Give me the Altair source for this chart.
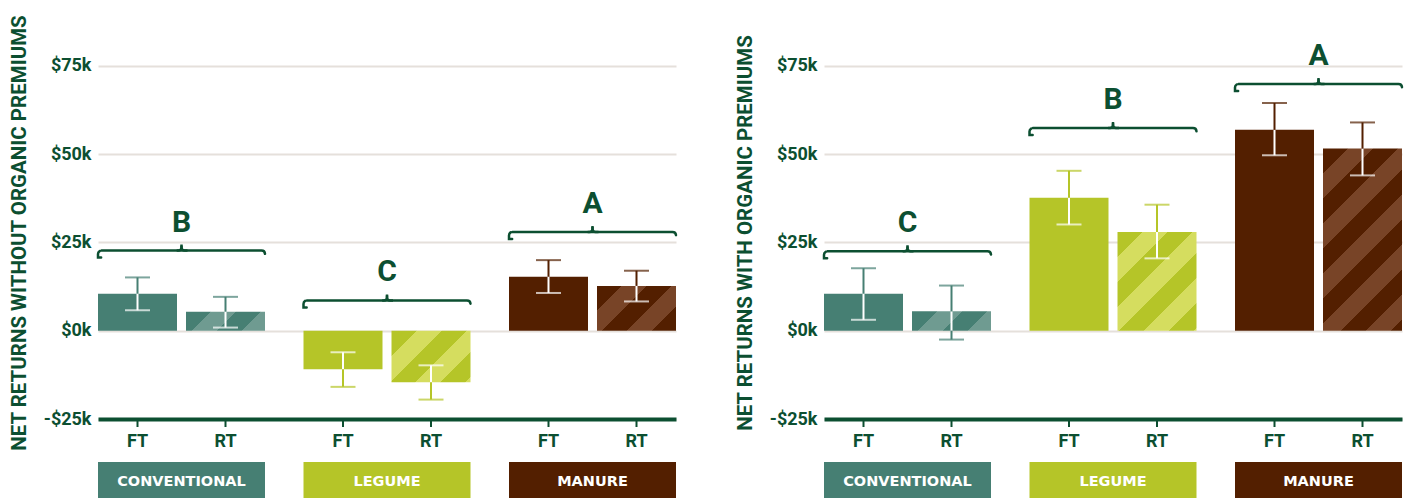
import math
import altair as alt
import pandas as pd

# ---------------- data ----------------
groups = ["CONVENTIONAL", "LEGUME", "MANURE"]
tillage = ["FT", "RT"]
bar_group = ["CONVENTIONAL", "CONVENTIONAL", "LEGUME", "LEGUME", "MANURE", "MANURE"]
bar_tillage = ["FT", "RT", "FT", "RT", "FT", "RT"]

# net returns without organic premiums ($ thousands)
without_mean = [10.5, 5.4, -10.9, -14.6, 15.3, 12.7]
without_low = [5.8, 0.9, -15.9, -19.5, 10.7, 8.3]
without_high = [15.1, 9.6, -6.1, -9.8, 20.0, 17.0]
without_letters = ["B", "C", "A"]
without_brace = [22.7, 8.6, 28.0]

# net returns with organic premiums ($ thousands)
with_mean = [10.5, 5.5, 37.7, 28.0, 56.9, 51.6]
with_low = [3.1, -2.5, 30.1, 20.5, 49.7, 44.0]
with_high = [17.7, 12.8, 45.3, 35.7, 64.5, 59.0]
with_letters = ["C", "B", "A"]
with_brace = [22.5, 57.4, 69.9]

y_ticks = [-25, 0, 25, 50, 75]

# ---------------- style ----------------
DG = "#0c4f31"
GRID = "#e5e0db"
BASE = ["#467f73", "#b5c528", "#531f00"]
LIGHT = ["#6f9b91", "#d5dd5f", "#784427"]
FONT = "Roboto"

W, H = 590, 406
RANGE_W = 578
GROUP_PAD = 38.5 / 205.5
STEP = RANGE_W / (3 - GROUP_PAD)
BW = STEP * (1 - GROUP_PAD)
TILL_PAD = 9 / 88
BAR_W = BW / (2 - TILL_PAD) * (1 - TILL_PAD)
Y_MIN, Y_MAX = -25, 90
STRIPE = 50.0

# brace geometry
BR_R = 6
BR_H = 7
PK = 6
ARC = math.pi * BR_R / 2
PARC = math.pi * PK / 2


def stripe_gradient(value, base, light):
    h = abs(value) / (Y_MAX - Y_MIN) * H
    w = BAR_W
    s = (w + h) / (w * w + h * h)
    total = w + h
    half = STRIPE / 2
    stops = []
    pos, k = 0.0, 0
    while pos < total:
        c = base if k % 2 == 0 else light
        a = pos / total
        b = min(pos + half, total) / total
        stops.append({"offset": a, "color": c})
        stops.append({"offset": b, "color": c})
        pos += half
        k += 1
    return {"gradient": "linear", "x1": 0, "y1": 0, "x2": s * w, "y2": s * h, "stops": stops}


color_enc = alt.Color("group:N", scale=alt.Scale(domain=groups, range=BASE), legend=None)


def panel(mean, low, high, letters, brace, title):
    bars = pd.DataFrame({"group": bar_group, "tillage": bar_tillage,
                         "mean": mean, "low": low, "high": high})
    segs, caps = [], []
    for g, t, m, lo, hi in zip(bar_group, bar_tillage, mean, low, high):
        b0, b1 = min(0, m), max(0, m)
        wl, wh = max(lo, b0), min(hi, b1)
        if wh > wl:
            segs.append(dict(group=g, tillage=t, lo=wl, hi=wh, inside=True))
        if lo < b0:
            segs.append(dict(group=g, tillage=t, lo=lo, hi=min(hi, b0), inside=False))
        if hi > b1:
            segs.append(dict(group=g, tillage=t, lo=max(lo, b1), hi=hi, inside=False))
        for v in (lo, hi):
            caps.append(dict(group=g, tillage=t, y=v, inside=bool(b0 <= v <= b1)))
    segs = pd.DataFrame(segs)
    caps = pd.DataFrame(caps)
    br = pd.DataFrame({"group": groups, "level": brace, "letter": letters})
    gdf = pd.DataFrame({"group": groups})

    X = alt.X("group:N",
              scale=alt.Scale(domain=groups, range=[0, RANGE_W], paddingInner=GROUP_PAD, paddingOuter=0),
              axis=alt.Axis(labels=False, ticks=False, title=None, domain=True, domainColor=DG,
                            domainWidth=4, grid=False, zindex=1))
    XO = alt.XOffset("tillage:N", scale=alt.Scale(domain=tillage, paddingInner=TILL_PAD, paddingOuter=0))
    yaxis = alt.Axis(values=y_ticks, labelExpr="(datum.value < 0 ? '-$' : '$') + abs(datum.value) + 'k'",
                     domain=False, ticks=False, grid=True, gridColor=GRID, gridWidth=2,
                     labelFont=FONT, labelFontSize=18, labelFontWeight="bold", labelColor=DG,
                     labelPadding=7, title=title, titleFont=FONT, titleFontSize=20.5,
                     titleFontWeight="bold", titleColor=DG, titleAngle=270, titleAlign="center",
                     titleBaseline="middle", titleX=-79, titleY=219.5)
    yscale = alt.Scale(domain=[Y_MIN, Y_MAX], nice=False, zero=False)

    def Y(f):
        return alt.Y(f + ":Q", scale=yscale, axis=yaxis, title=title)

    layers = []
    layers.append(alt.Chart(bars).transform_filter("datum.tillage == 'FT'").mark_bar()
                  .encode(x=X, xOffset=XO, y=Y("mean"), color=color_enc))
    for i, g in enumerate(groups):
        v = mean[bar_group.index(g) + 1]
        layers.append(alt.Chart(bars)
                      .transform_filter(f"datum.group == '{g}' && datum.tillage == 'RT'")
                      .mark_bar(fill=stripe_gradient(v, BASE[i], LIGHT[i]))
                      .encode(x=X, xOffset=XO, y=Y("mean")))
    cond = alt.condition("datum.inside", alt.value("white"), color_enc)
    layers.append(alt.Chart(segs).mark_rule(strokeWidth=2)
                  .encode(x=X, xOffset=XO, y=Y("lo"), y2="hi:Q", color=cond))
    layers.append(alt.Chart(caps).mark_tick(size=25, thickness=2)
                  .encode(x=X, xOffset=XO, y=Y("y"), color=cond))
    # braces
    dash_main = [BW - 2 * BR_R + ARC + (BR_H - BR_R) - 0.3, BW + 0.6, (BR_H - BR_R) + ARC - 0.3]
    layers.append(alt.Chart(br).mark_rect(fillOpacity=0, stroke=DG, strokeWidth=2.5, strokeCap="round",
                                          cornerRadiusTopLeft=BR_R, cornerRadiusTopRight=BR_R,
                                          strokeDash=dash_main, y2Offset=BR_H)
                  .encode(x=X, y=Y("level"), y2="level:Q"))
    layers.append(alt.Chart(br).mark_bar(width=PK, xOffset=-PK / 2, yOffset=-PK, fillOpacity=0, stroke=DG,
                                         strokeWidth=2.5, cornerRadiusBottomRight=PK,
                                         strokeDash=[0, PK, PARC, PK + 2])
                  .encode(x=X, y=Y("level"), y2="level:Q"))
    layers.append(alt.Chart(br).mark_bar(width=PK, xOffset=PK / 2, yOffset=-PK, fillOpacity=0, stroke=DG,
                                         strokeWidth=2.5, cornerRadiusBottomLeft=PK,
                                         strokeDash=[0, 2 * PK, PARC, PK + 2])
                  .encode(x=X, y=Y("level"), y2="level:Q"))
    layers.append(alt.Chart(br).mark_text(dy=-28, fontSize=30, fontWeight="bold", color=DG, font=FONT,
                                          baseline="middle")
                  .encode(x=X, y=Y("level"), text="letter:N"))
    # x ticks, FT/RT labels, group boxes
    layers.append(alt.Chart(bars).mark_rule(color=DG, strokeWidth=2)
                  .encode(x=X, xOffset=XO, y=alt.value(H + 2), y2=alt.value(H + 8)))
    layers.append(alt.Chart(bars).mark_text(font=FONT, fontSize=18, fontWeight="bold", color=DG,
                                            baseline="middle")
                  .encode(x=X, xOffset=XO, y=alt.value(H + 23), text="tillage:N"))
    layers.append(alt.Chart(gdf).mark_rect()
                  .encode(x=X, y=alt.value(H + 43), y2=alt.value(H + 80), color=color_enc))
    layers.append(alt.Chart(gdf).mark_text(font="DejaVu Sans", fontSize=14.5, fontWeight="bold",
                                           color="white", baseline="middle")
                  .encode(x=X, y=alt.value(H + 63), text="group:N"))
    return alt.layer(*layers).properties(width=W, height=H)


left = panel(without_mean, without_low, without_high, without_letters, without_brace,
             "NET RETURNS WITHOUT ORGANIC PREMIUMS")
right = panel(with_mean, with_low, with_high, with_letters, with_brace,
              "NET RETURNS WITH ORGANIC PREMIUMS")

chart = (alt.hconcat(left, right, spacing=46)
         .properties(padding={"left": 0, "top": 5, "right": 0, "bottom": 0})
         .configure_view(strokeWidth=0))

chart.save("out.html", embed_options={"renderer": "svg", "actions": False})
